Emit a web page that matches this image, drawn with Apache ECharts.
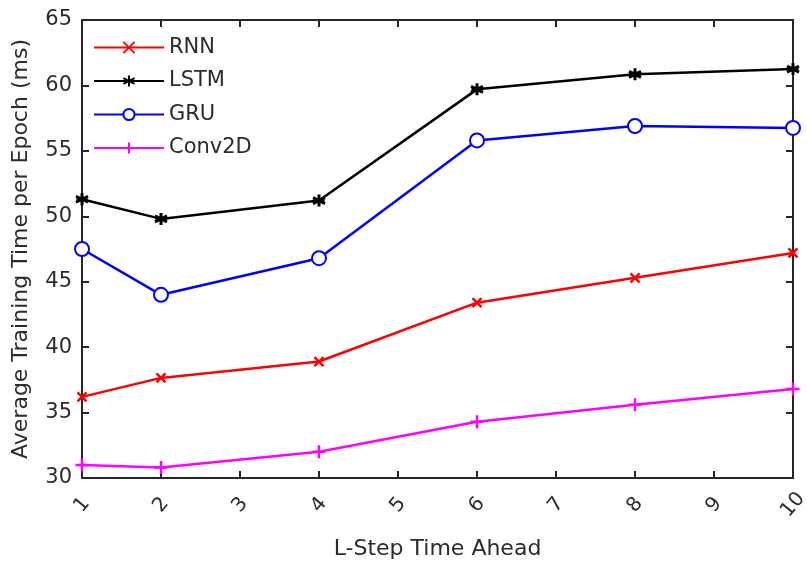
<!DOCTYPE html>
<html>
<head>
    <meta charset="utf-8" />
    <title>Training Time</title>
    <script src="https://cdn.jsdelivr.net/npm/echarts@6/dist/echarts.min.js"></script>
</head>
<body style="margin:0">
    <div id="main" style="width:807px;height:561px"></div>
    <script type="text/javascript">

        var steps = [1, 2, 4, 6, 8, 10];
        var rnn = [36.2, 37.65, 38.9, 43.4, 45.3, 47.2];
        var lstm = [51.3, 49.8, 51.2, 59.7, 60.85, 61.25];
        var gru = [47.5, 44.0, 46.8, 55.8, 56.9, 56.75];
        var conv2d = [31.0, 30.8, 32.0, 34.3, 35.6, 36.8];

        var names = ['RNN', 'LSTM', 'GRU', 'Conv2D'];
        var values = [rnn, lstm, gru, conv2d];
        var colors = ['#ff0000', '#000000', '#0000ff', '#ff00ff'];
        var symbols = [
            'path://M0,0L10,10M10,0L0,10',
            'path://M5,0L5,10M0.7,2.5L9.3,7.5M0.7,7.5L9.3,2.5M1,5L9,5',
            'emptyCircle',
            'path://M5,0L5,10M0,5L10,5'
        ];
        var sizes = [9, 12, 14, 13];
        var borders = [2.5, 3, 2.5, 2.5];

        var chartDom = document.getElementById('main');
        var myChart = echarts.init(chartDom);
        var font = '"DejaVu Sans", sans-serif';
        var axisColor = '#262626';
        var textColor = '#2b2b2b';

        var series = names.map(function (name, i) {
            return {
                name: name,
                type: 'line',
                data: steps.map(function (s, j) { return [s, values[i][j]]; }),
                symbol: symbols[i],
                symbolSize: sizes[i],
                lineStyle: { color: colors[i], width: 2.5 },
                itemStyle: {
                    color: colors[i],
                    borderColor: colors[i],
                    borderWidth: borders[i]
                },
                animation: false
            };
        });

        var option = {
            textStyle: { fontFamily: font },
            grid: { left: 82, right: 14, top: 20, bottom: 83, outerBoundsMode: 'none' },
            legend: {
                orient: 'vertical',
                left: 88,
                top: 32,
                itemWidth: 70,
                itemHeight: 14,
                itemGap: 12.5,
                textStyle: { fontSize: 21, color: textColor, fontFamily: font },
                data: names
            },
            xAxis: [{
                type: 'value',
                min: 1,
                max: 10,
                interval: 1,
                name: 'L-Step Time Ahead',
                nameLocation: 'middle',
                nameGap: 60,
                nameMoveOverlap: false,
                nameTextStyle: { fontSize: 22, color: textColor },
                axisLine: { lineStyle: { color: axisColor, width: 2 } },
                axisTick: { inside: true, length: 7, lineStyle: { color: axisColor, width: 2 } },
                axisLabel: { rotate: 50, fontSize: 20, color: textColor, margin: 27, align: 'center', verticalAlign: 'middle' },
                splitLine: { show: false }
            }, {
                type: 'value',
                position: 'top',
                min: 1,
                max: 10,
                interval: 1,
                axisLine: { lineStyle: { color: axisColor, width: 2 } },
                axisTick: { inside: true, length: 7, lineStyle: { color: axisColor, width: 2 } },
                axisLabel: { show: false },
                splitLine: { show: false }
            }],
            yAxis: [{
                type: 'value',
                min: 30,
                max: 65,
                interval: 5,
                name: 'Average Training Time per Epoch (ms)',
                nameLocation: 'middle',
                nameGap: 50,
                nameMoveOverlap: false,
                nameTextStyle: { fontSize: 22, color: textColor },
                axisLine: { show: true, lineStyle: { color: axisColor, width: 2 } },
                axisTick: { show: true, inside: true, length: 7, lineStyle: { color: axisColor, width: 2 } },
                axisLabel: { fontSize: 21, color: textColor, margin: 10 },
                splitLine: { show: false }
            }, {
                type: 'value',
                position: 'right',
                min: 30,
                max: 65,
                interval: 5,
                axisLine: { show: true, lineStyle: { color: axisColor, width: 2 } },
                axisTick: { show: true, inside: true, length: 7, lineStyle: { color: axisColor, width: 2 } },
                axisLabel: { show: false },
                splitLine: { show: false }
            }],
            series: series
        };

        option && myChart.setOption(option);

    </script>
</body>
</html>
